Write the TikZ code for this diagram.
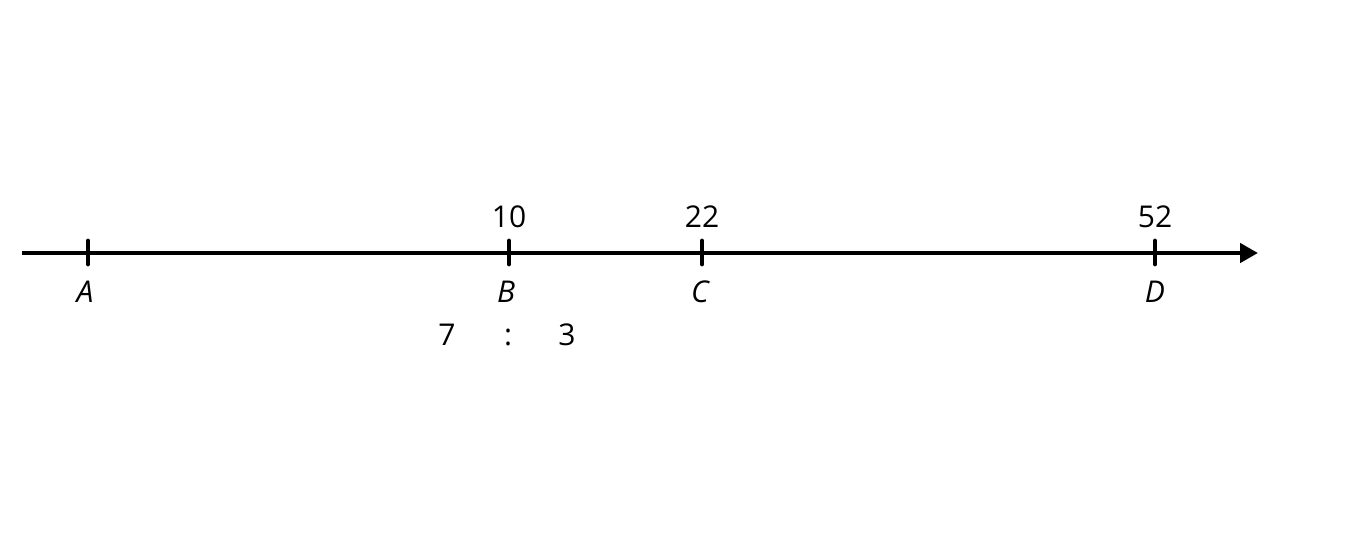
\documentclass[tikz,border=0pt]{standalone}
\usepackage{fontspec}
\setmainfont{Open Sans}
\usetikzlibrary{arrows.meta}
\begin{document}
\begin{tikzpicture}[x=1pt,y=-1pt,
  axis/.style={line width=4.8pt,-{Triangle[length=18pt,width=19pt]}},
  tick/.style={line width=4.8pt,line cap=round},
  lbl/.style={inner sep=0pt,anchor=base,font=\fontsize{30}{36}\selectfont}]
\useasboundingbox (0,0) rectangle (1372,539);
\coordinate (start) at (22,253);
\coordinate (end) at (1258,253);
\draw[axis] (start) -- (end);
\foreach \n/\x in {A/88,B/509,C/702,D/1155}{
  \coordinate (t\n) at (\x,253);
  \draw[tick] (\x,241) -- (\x,264);
}
\node[lbl] (n10) at (509,227) {10};
\node[lbl] (n22) at (702,227) {22};
\node[lbl] (n52) at (1155,227) {52};
\node[lbl] (lA) at (85,302) {\itshape A};
\node[lbl] (lB) at (506,302) {\itshape B};
\node[lbl] (lC) at (700,302) {\itshape C};
\node[lbl] (lD) at (1155,302) {\itshape D};
\node[lbl] (r7) at (447,345) {7};
\node[lbl] (rc) at (508,345) {:};
\node[lbl] (r3) at (567,345) {3};
\end{tikzpicture}
\end{document}
